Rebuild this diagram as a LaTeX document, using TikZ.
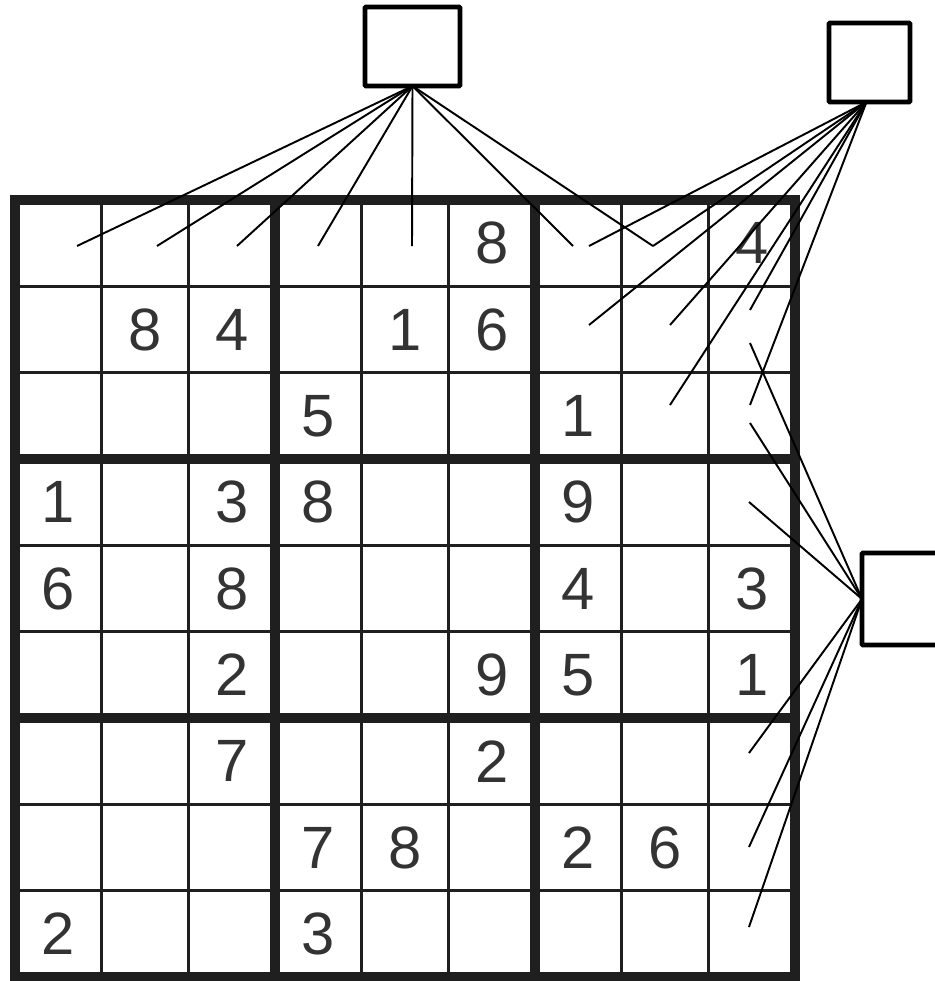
\documentclass[tikz,border=0pt]{standalone}
\usepackage{fontspec}
\setmainfont{Liberation Sans}
\begin{document}
\begin{tikzpicture}[x=0.02cm,y=-0.02cm,
  thingrid/.style={line width=1.6pt,color=black!88},
  thickgrid/.style={line width=5.6pt,color=black!88},
  digit/.style={inner sep=0pt,text=black!80,font=\fontsize{34}{34}\selectfont},
  box/.style={draw,line width=2.6pt,fill=white,inner sep=0pt,outer sep=0pt,rounded corners=0.5pt},
  conn/.style={line width=1.1pt}]
\useasboundingbox (0,0) rectangle (935,981);
\clip (0,0) rectangle (935,981);
% grid
\foreach \i in {1,2,4,5,7,8}{
  \draw[thingrid] ({15+\i*86.667},200) -- ({15+\i*86.667},977);
  \draw[thingrid] (15,{200+\i*86.333}) -- (795,{200+\i*86.333});
}
\foreach \i in {3,6}{
  \draw[thickgrid] ({15+\i*86.667},200) -- ({15+\i*86.667},977);
  \draw[thickgrid] (15,{200+\i*86.333}) -- (795,{200+\i*86.333});
}
\draw[thickgrid] (15,200) rectangle (795,977);
% digits
\foreach \r/\c/\d in {1/6/8,1/9/4,
  2/2/8,2/3/4,2/5/1,2/6/6,
  3/4/5,3/7/1,
  4/1/1,4/3/3,4/4/8,4/7/9,
  5/1/6,5/3/8,5/7/4,5/9/3,
  6/3/2,6/6/9,6/7/5,6/9/1,
  7/3/7,7/6/2,
  8/4/7,8/5/8,8/7/2,8/8/6,
  9/1/2,9/4/3}{
  \node[digit] (d\r\c) at ({15+(\c-0.5)*86.667},{200+(\r-0.5)*86.333}) {\d};
}
% boxes
\node[box,minimum width=1.9cm,minimum height=1.58cm] (b1) at (412.5,46.5) {};
\node[box,minimum width=1.62cm,minimum height=1.58cm] (b2) at (869.5,62.5) {};
\node[box,minimum width=1.96cm,minimum height=1.84cm] (b3) at (911,599) {};
% end points
\foreach \n/\x/\y in {a1/77/246,a2/157/246,a3/237/246,a4/318/246,a5/412/246,a7/573/246,a8/653/246}
  \coordinate (\n) at (\x,\y);
\foreach \n/\x/\y in {k1/589/246,k2/589/325,k3/670/325,k4/750/310,k5/670/405,k6/750/405}
  \coordinate (\n) at (\x,\y);
\foreach \n/\x/\y in {c2/750/343,c3/750/423,c4/749/502,c7/749/753,c8/749/847,c9/749/927}
  \coordinate (\n) at (\x,\y);
\coordinate (b2apex) at ([xshift=-3*0.02cm]b2.south);
% connectors
\foreach \n in {a1,a2,a3,a4,a5,a7,a8}
  \draw[conn] (b1.south) -- (\n);
\foreach \n in {k1,a8,k2,k3,k4,k5,k6}
  \draw[conn] (b2apex) -- (\n);
\foreach \n in {c2,c3,c4,c7,c8,c9}
  \draw[conn] (b3.west) -- (\n);
\end{tikzpicture}
\end{document}
